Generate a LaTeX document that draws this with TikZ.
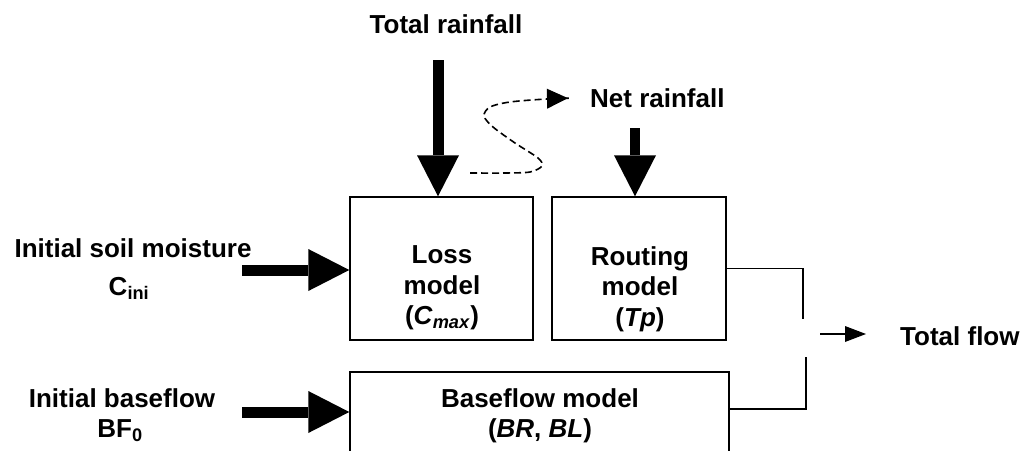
\documentclass[tikz,border=0pt]{standalone}
\usepackage{fontspec}
\setmainfont{Liberation Sans}
\usetikzlibrary{arrows.meta}
\begin{document}
\begin{tikzpicture}[x=1pt,y=-1pt,
  lbl/.style={font=\bfseries\fontsize{26}{30.5}\selectfont, inner sep=0pt, align=center},
  modelbox/.style={draw, line width=1.4pt, inner sep=0pt},
  bigarrow/.style={line width=11pt, -{Triangle[length=41pt,width=42pt,line width=0pt]}},
  thinline/.style={line width=1.1pt},
  dashconn/.style={line width=1.6pt, dash pattern=on 7pt off 4pt, -{Triangle[length=21pt,width=20pt,line width=0pt]}},
  smallarrow/.style={line width=1.1pt, -{Triangle[length=21pt,width=16pt,line width=0pt]}}
]
\clip (0,0) rectangle (1027,450);
\fill[white] (0,0) rectangle (1027,450);

% boxes
\node[modelbox, minimum width=183pt, minimum height=143pt] (loss) at (441.5,268.5) {};
\node[modelbox, minimum width=174pt, minimum height=143pt] (rout) at (639,268.5) {};
\node[modelbox, minimum width=379pt, minimum height=120pt] (base) at (539.5,432) {};

% box texts
\node[lbl] (losst) at (442,288) {Loss\\model\\(\textit{C}\textsubscript{\textit{max}})};
\node[lbl] (routt) at (640,289) {Routing\\model\\(\textit{Tp})};
\node[lbl] (baset) at (540,416) {Baseflow model\\(\textit{BR}, \textit{BL})};

% outer texts
\node[lbl, anchor=base] (train) at (446,33) {Total rainfall};
\node[lbl, anchor=base west] (nrain) at (590,107) {Net rainfall};
\node[lbl, anchor=base west] (tflow) at (900,345) {Total flow};
\node[lbl, anchor=base] (soil) at (133,257) {Initial soil moisture};
\node[lbl, anchor=base] (cini) at (129,295) {C\textsubscript{ini}};
\node[lbl, anchor=base] (ibf) at (122,407) {Initial baseflow};
\node[lbl, anchor=base] (bf0) at (120,437) {BF\textsubscript{0}};

% big arrows
\coordinate (trtop) at (438,60);
\draw[bigarrow] (trtop) -- (trtop |- loss.north);
\coordinate (nrtop) at (635,128);
\draw[bigarrow, line width=10pt] (nrtop) -- (nrtop |- rout.north);
\coordinate (smtail) at (242,270);
\draw[bigarrow] (smtail) -- (smtail -| loss.west);
\coordinate (bftail) at (242,412);
\draw[bigarrow] (bftail) -- (bftail -| base.west);

% outputs
\coordinate (rj) at (803,319);
\draw[thinline] (rout.east) -| (rj);
\coordinate (bo) at (0,409);
\coordinate (bj) at (806,357);
\draw[thinline] (base.east |- bo) -| (bj);
\coordinate (jn) at (820,334);
\draw[smallarrow, shorten >=34pt] (jn) -- (jn -| tflow.west);

% dashed connector
\coordinate (ds) at (470,173);
\draw[dashconn, shorten >=22pt] plot[smooth] coordinates {(ds) (505,173) (530,172) (542,166) (538,158) (515,143) (493,127) (484,116) (490,107) (510,102) (547,99) (nrain.west)};
\end{tikzpicture}
\end{document}
